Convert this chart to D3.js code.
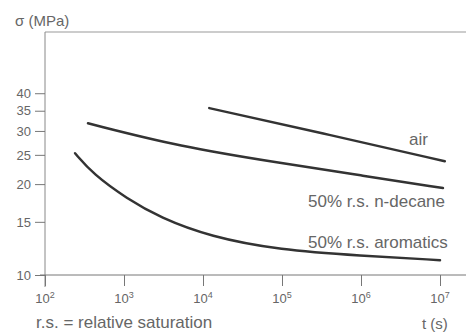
<!DOCTYPE html>
<html>
<head>
<meta charset="utf-8">
<script src="https://cdn.jsdelivr.net/npm/d3@7"></script>
<style>
body{margin:0;background:#fff;}
svg{display:block;font-family:"Liberation Sans",Arial,sans-serif;}
</style>
</head>
<body>
<svg></svg>
<script>
// values (t in s, sigma in MPa)
var yTicks=[10,15,20,25,30,35,40];
var xExps=[2,3,4,5,6,7];

var airT=[12000,410000,11500000];
var airSigma=[35.7,29.1,23.8];

var decaneT=[350,5100,94000,980000,10900000];
var decaneSigma=[31.8,26.6,23.5,21.4,19.4];

var aromT=[240,405,1090,2860,12300,94000,970000,10000000];
var aromSigma=[25.3,21.6,17.9,15.5,13.4,12.1,11.6,11.2];

var width=466;
var height=333;

var svg=d3.select("svg")
.attr("width",width)
.attr("height",height);

var x=d3.scaleLog().domain([1e2,1e7]).range([45,440]);
var y=d3.scaleLog().domain([10,63.8]).range([275,32]);

// frame lines
svg.append("line")
.attr("x1",45).attr("x2",466)
.attr("y1",32).attr("y2",32)
.attr("stroke","#999").attr("stroke-width",1);

svg.append("line")
.attr("x1",45).attr("x2",45)
.attr("y1",32).attr("y2",287)
.attr("stroke","#888").attr("stroke-width",1);

svg.append("line")
.attr("x1",40).attr("x2",466)
.attr("y1",275).attr("y2",275)
.attr("stroke","#777").attr("stroke-width",1);

// y axis
var yAxis=svg.append("g")
.attr("transform","translate(45,0)")
.call(d3.axisLeft(y).tickValues(yTicks).tickSize(10).tickPadding(4).tickFormat(d3.format("d")));
yAxis.select(".domain").remove();
yAxis.selectAll("line").attr("stroke","#777");
yAxis.selectAll("text").attr("fill","#666").style("font-size","13px").style("font-family","'Liberation Sans',Arial,sans-serif");

// x axis
var xAxis=svg.append("g")
.attr("transform","translate(0,275)")
.call(d3.axisBottom(x).tickValues(xExps.map(function(e){return Math.pow(10,e);})).tickSize(11).tickFormat(""));
xAxis.select(".domain").remove();
xAxis.selectAll("line").attr("stroke","#777");

var xl=svg.selectAll(".xlab")
.data(xExps)
.enter()
.append("text")
.attr("class","xlab")
.attr("x",function(d){return x(Math.pow(10,d));})
.attr("y",303)
.attr("text-anchor","middle")
.attr("fill","#666")
.style("font-size","13px");
xl.append("tspan").text("10");
xl.append("tspan").attr("dy",-5).style("font-size","9px").text(function(d){return d;});

// curves
var line=d3.line()
.x(function(d){return x(d[0]);})
.y(function(d){return y(d[1]);})
.curve(d3.curveBasis);

var series=[
{t:airT,s:airSigma},
{t:decaneT,s:decaneSigma},
{t:aromT,s:aromSigma}
];

svg.selectAll(".curve")
.data(series)
.enter()
.append("path")
.attr("class","curve")
.attr("d",function(d){return line(d.t.map(function(v,i){return [v,d.s[i]];}));})
.attr("fill","none")
.attr("stroke","#333")
.attr("stroke-width",2.5)
.attr("stroke-linecap","round");

// texts
var labels=[
{x:15,y:26,t:"\u03c3 (MPa)",size:15,anchor:"start"},
{x:409,y:145,t:"air",size:17,anchor:"start"},
{x:308,y:207,t:"50% r.s. n-decane",size:17,anchor:"start"},
{x:308,y:248,t:"50% r.s. aromatics",size:17,anchor:"start"},
{x:36,y:328,t:"r.s. = relative saturation",size:17,anchor:"start"},
{x:422,y:329,t:"t (s)",size:15,anchor:"start"}
];

svg.selectAll(".lab")
.data(labels)
.enter()
.append("text")
.attr("class","lab")
.attr("x",function(d){return d.x;})
.attr("y",function(d){return d.y;})
.attr("text-anchor",function(d){return d.anchor;})
.attr("fill","#666")
.style("font-size",function(d){return d.size+"px";})
.text(function(d){return d.t;});
</script>
</body>
</html>
